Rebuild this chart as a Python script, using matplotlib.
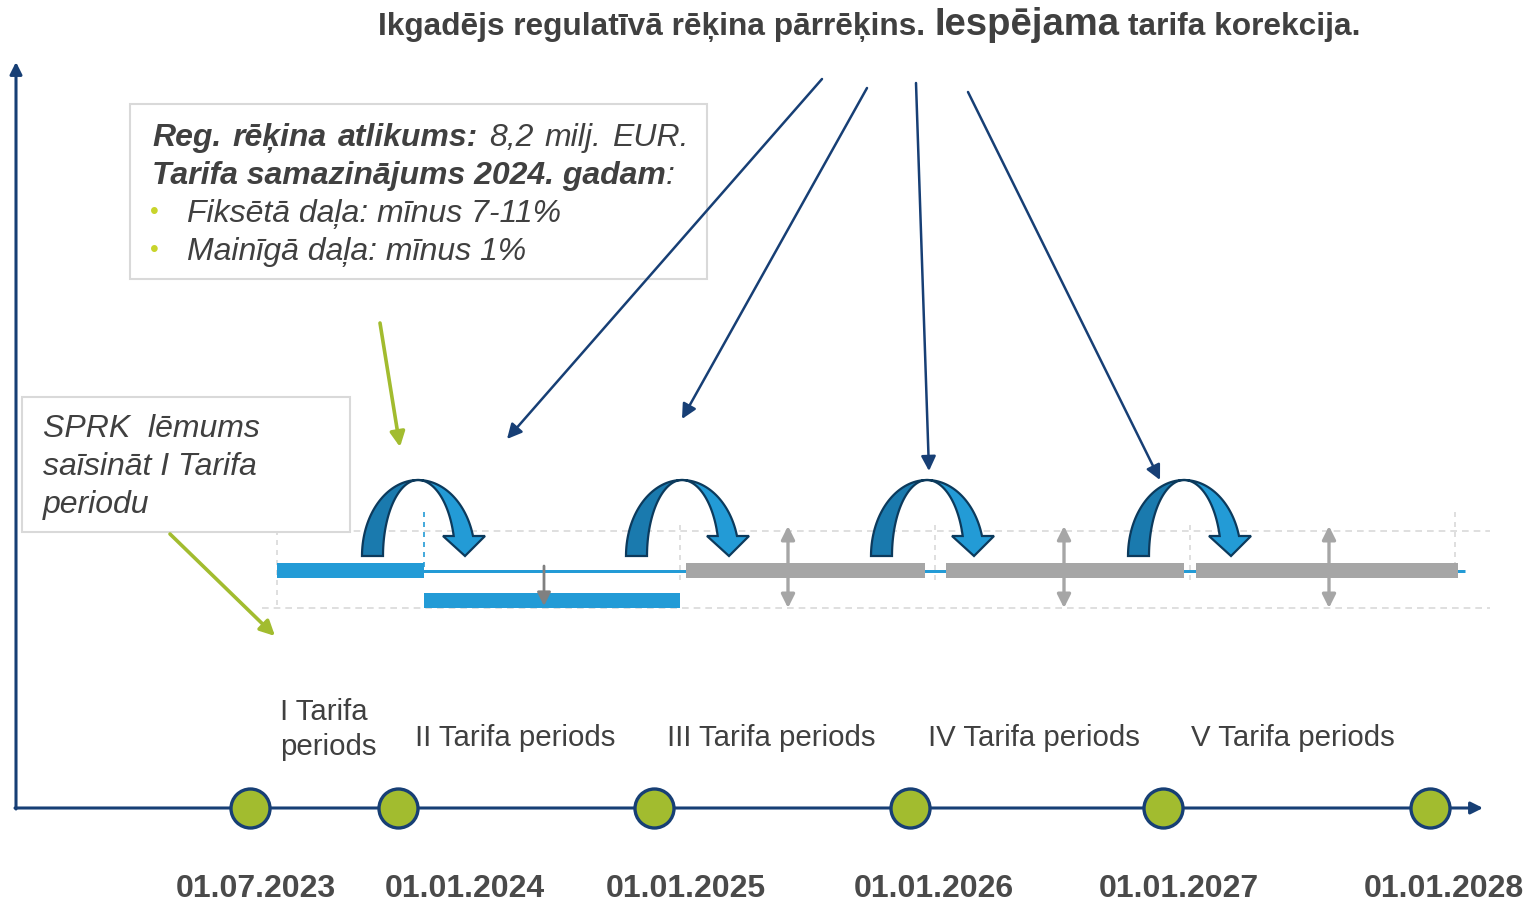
import numpy as np
import matplotlib

matplotlib.use('Agg')
import matplotlib.pyplot as plt
from matplotlib.patches import Polygon, Rectangle

plt.rcParams['font.family'] = ['Liberation Sans', 'DejaVu Sans']

# Timeline milestones (position on the drawn time axis)
milestone_x = [250, 398, 654, 910, 1163, 1430]
date_labels = ['01.07.2023', '01.01.2024', '01.01.2025', '01.01.2026', '01.01.2027', '01.01.2028']
date_label_x = [256, 465, 686, 934, 1179, 1444]

period_labels = ['I Tarifa\nperiods', 'II Tarifa periods', 'III Tarifa periods',
                 'IV Tarifa periods', 'V Tarifa periods']
period_label_x = [280, 415, 667, 928, 1191]

# Tariff bars: start, end, level (0 = base, 1 = lowered), colour kind
bar_start = [277, 424, 686, 946, 1196]
bar_end = [424, 680, 925, 1184, 1458]
bar_level = [0, 1, 0, 0, 0]
bar_kind = ['fixed', 'fixed', 'open', 'open', 'open']

# Annual recalculation points (u-turn arrows) and possible correction arrows
uturn_x = [418, 682, 927, 1184]
correction_x = [788, 1064, 1329]

title_parts = ['Ikgadējs regulatīvā rēķina pārrēķins.', 'Iespējama', 'tarifa korekcija.']
decision_lines = ['SPRK  lēmums', 'saīsināt I Tarifa', 'periodu']
bullet_lines = ['Fiksētā daļa: mīnus 7-11%', 'Mainīgā daļa: mīnus 1%']

NAVY = '#173F75'
BLUE = '#239BD6'
DARK_BLUE = '#1A7AAE'
GREEN = '#A2BC2F'
GREY = '#A6A6A6'
TEXT = '#404040'
PT = 72 / 100.0  # pixels -> points

fig = plt.figure(figsize=(15.27, 9.01), dpi=100)
ax = fig.add_axes([0, 0, 1, 1])
ax.set_xlim(0, 1527)
ax.set_ylim(901, 0)
ax.axis('off')
renderer = fig.canvas.get_renderer()

level_y = {0: 570.5, 1: 600.5}


def chain_text(x, y, parts, **kw):
    """Write text pieces one after another on one baseline"""
    for s, props, gap in parts:
        t = ax.text(x, y, s, va='baseline', ha='left', **kw, **props)
        x += t.get_window_extent(renderer=renderer).width + gap
    return x


def u_turn(cx, top=480, base=556):
    ry = base - top
    th = np.linspace(np.pi, np.pi / 2, 40)
    outer = np.c_[cx + 56 * np.cos(th), base - ry * np.sin(th)]
    inner = np.c_[cx + 35 * np.cos(th), base - ry * np.sin(th)]
    ax.add_patch(Polygon(np.r_[outer, inner[::-1]], closed=True, fc=DARK_BLUE,
                         ec='#0C3A5C', lw=1.6, zorder=5))
    th_end = np.arcsin((base - 536) / ry)
    th = np.linspace(np.pi / 2, th_end, 40)
    outer = np.c_[cx + 57 * np.cos(th), base - ry * np.sin(th)]
    inner = np.c_[cx + 37 * np.cos(th), base - ry * np.sin(th)]
    x_in, x_out = inner[-1, 0], outer[-1, 0]
    head = [[x_out, 536], [cx + 67, 536], [cx + 47, base], [cx + 25, 536], [x_in, 536]]
    ax.add_patch(Polygon(np.r_[outer, head, inner[::-1]], closed=True, fc=BLUE,
                         ec='#0C3A5C', lw=1.6, zorder=6))


# Axes of the diagram
ax.annotate('', xy=(16, 62), xytext=(16, 809),
            arrowprops=dict(arrowstyle='-|>', color=NAVY, lw=2.2, mutation_scale=18,
                            shrinkA=0, shrinkB=0))
ax.annotate('', xy=(1483, 808), xytext=(15, 808),
            arrowprops=dict(arrowstyle='-|>', color=NAVY, lw=2.2, mutation_scale=18,
                            shrinkA=0, shrinkB=0))

# Dashed guide lines
ax.hlines(531, 237, 1490, colors='#D9D9D9', linestyles=(0, (4, 3)), lw=1.2, zorder=1)
ax.hlines(608, 262, 1490, colors='#D9D9D9', linestyles=(0, (4, 3)), lw=1.2, zorder=1)
for x, y0, y1, c in [(277, 530, 610, '#D9D9D9'), (424, 512, 570, BLUE), (680, 525, 585, '#D9D9D9'),
                     (935, 525, 585, '#D9D9D9'), (1190, 525, 585, '#D9D9D9'),
                     (1455, 512, 570, '#D9D9D9')]:
    ax.vlines(x, y0, y1, colors=c, linestyles=(0, (3, 3)), lw=1.2, zorder=1)

# Base tariff line and bars
ax.hlines(570.5, 277, 1465, colors=BLUE, lw=3 * PT, zorder=2)
for s, e, lv, kind in zip(bar_start, bar_end, bar_level, bar_kind):
    ax.barh(level_y[lv], e - s, left=s, height=15, color=BLUE if kind == 'fixed' else GREY,
            zorder=3)

# Down arrow for tariff decrease
ax.annotate('', xy=(544, 606), xytext=(544, 566),
            arrowprops=dict(arrowstyle='-|>', color='#808080', lw=2.0, mutation_scale=20,
                            shrinkA=0, shrinkB=0), zorder=4)
# Possible correction arrows
for x in correction_x:
    ax.annotate('', xy=(x, 526), xytext=(x, 608),
                arrowprops=dict(arrowstyle='<|-|>', color=GREY, lw=2.4, mutation_scale=20,
                                shrinkA=0, shrinkB=0), zorder=4)

for cx in uturn_x:
    u_turn(cx)

# Navy arrows from the title (drawn over the info box)
for (x0, y0), (x1, y1) in [((822, 79), (507, 439)), ((867, 88), (682, 419)),
                           ((916, 83), (929, 471)), ((968, 92), (1160, 480))]:
    ax.annotate('', xy=(x1, y1), xytext=(x0, y0),
                arrowprops=dict(arrowstyle='-|>', color=NAVY, lw=1.8, mutation_scale=22,
                                shrinkA=0, shrinkB=0), zorder=12)

# Green pointer arrows
for (x0, y0), (x1, y1) in [((380, 323), (400, 447)), ((170, 534), (275, 636))]:
    ax.annotate('', xy=(x1, y1), xytext=(x0, y0),
                arrowprops=dict(arrowstyle='-|>', color=GREEN, lw=2.6, mutation_scale=22,
                                shrinkA=0, shrinkB=0), zorder=12)

# Milestones
ax.scatter(milestone_x, [808] * len(milestone_x), s=(39 * PT) ** 2, color=GREEN,
           edgecolor=NAVY, linewidth=2.4, zorder=8)
for x, lab in zip(date_label_x, date_labels):
    ax.text(x, 897, lab, ha='center', va='baseline', fontsize=23, fontweight='bold',
            color='#4A4A4A')

# Period labels
for x, lab in zip(period_label_x, period_labels):
    y = 755 if '\n' in lab else 746
    ax.text(x, y, lab, ha='left', va='baseline', fontsize=21.2, color=TEXT, linespacing=1.3)

# Info box
ax.add_patch(Rectangle((130, 104), 577, 175, fc='white', ec='#D9D9D9', lw=1.5, zorder=9))
fs = 23
wsp = fs / PT * 0.278 * 1.25
line1 = [('Reg.', 'bold'), ('rēķina', 'bold'), ('atlikums:', 'bold'),
         ('8,2', 'normal'), ('milj.', 'normal'), ('EUR.', 'normal')]
chain_text(152, 146, [(w, dict(fontweight=b, style='italic'), wsp) for w, b in line1],
           fontsize=fs, color=TEXT, zorder=10)
chain_text(152, 184, [('Tarifa samazinājums 2024. gadam', dict(fontweight='bold', style='italic'), 0),
                      (':', dict(style='italic'), 0)],
           fontsize=fs, color=TEXT, zorder=10)
for y, lab in zip([222, 260], bullet_lines):
    ax.text(150, y - 3, '•', fontsize=18, color='#C8D42B', va='baseline', zorder=10)
    ax.text(187, y, lab, fontsize=fs, style='italic', color=TEXT, va='baseline', zorder=10)

# Decision box
ax.add_patch(Rectangle((22, 397), 328, 135, fc='white', ec='#D9D9D9', lw=1.5, zorder=9))
for y, lab in zip([437, 475, 513], decision_lines):
    ax.text(43, y, lab, fontsize=fs, style='italic', color=TEXT, va='baseline', zorder=10)

# Title
gap = 23 / PT * 0.278
chain_text(378, 35, [(title_parts[0], dict(fontsize=22.8), gap),
                     (title_parts[1], dict(fontsize=27.5), gap),
                     (title_parts[2], dict(fontsize=22.8), 0)],
           fontweight='bold', color=TEXT)

fig.savefig('out.png', dpi=100)
